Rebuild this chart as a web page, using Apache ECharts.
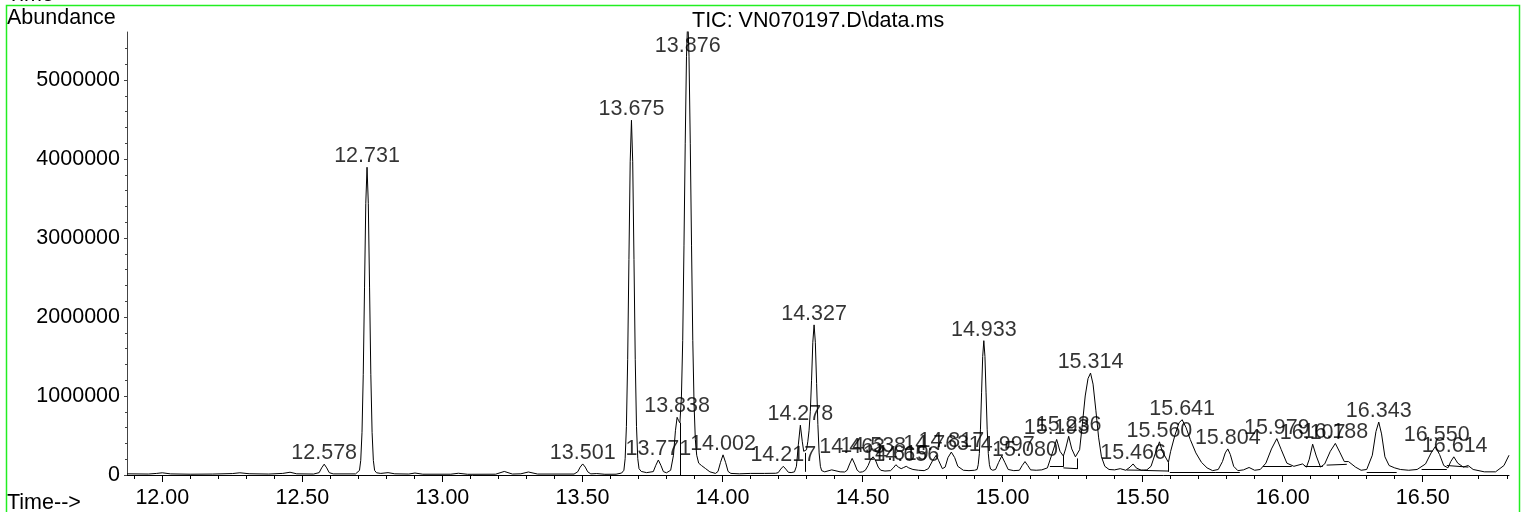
<!DOCTYPE html>
<html><head><meta charset="utf-8">
<script src="https://cdn.jsdelivr.net/npm/echarts@6/dist/echarts.min.js"></script>
<style>html,body{margin:0;padding:0;background:#fff;overflow:hidden}#c{width:1526px;height:512px}</style>
</head><body><div id="c"></div>
<script>
// ---- data ----
const traceTime = [
11.874,11.95,11.98,12.00,12.03,12.10,12.18,12.25,12.277,12.31,12.38,12.43,12.456,12.48,12.54,12.56,12.569,12.578,12.587,12.596,12.61,12.69,
12.704,12.7085,12.713,12.7175,12.722,12.7265,12.731,12.7355,12.740,12.7445,12.749,12.7535,12.758,12.765,12.78,12.806,12.83,12.88,12.902,12.93,
13.03,13.057,13.09,13.19,13.221,13.25,13.28,13.307,13.34,13.47,13.483,13.492,13.501,13.510,13.519,13.53,13.551,13.58,13.62,13.64,
13.648,13.6525,13.657,13.6615,13.666,13.6705,13.675,13.6795,13.684,13.6885,13.693,13.6975,13.702,13.71,13.729,13.753,13.762,13.771,13.780,13.789,13.80,
13.815,13.825,13.832,13.838,13.843,13.848,13.8535,13.858,13.8625,13.867,13.8715,13.876,13.8805,13.885,13.8895,13.894,13.8985,13.903,13.908,13.915,13.925,13.94,13.955,
13.975,13.984,13.993,14.002,14.011,14.020,14.03,14.06,14.10,14.15,14.19,14.199,14.208,14.217,14.226,14.235,14.245,14.257,14.264,14.271,14.278,14.285,14.290,14.295,
14.300,14.3045,14.309,14.3135,14.318,14.3225,14.327,14.3315,14.336,14.3405,14.345,14.3495,14.354,14.365,14.39,14.42,14.436,14.445,14.454,14.463,14.472,14.481,14.49,
14.50,14.51,14.52,14.529,14.538,14.547,14.556,14.565,14.58,14.60,14.610,14.619,14.628,14.638,14.647,14.656,14.665,14.68,14.70,14.72,14.735,14.75,14.763,14.772,14.785,
14.795,14.805,14.817,14.829,14.84,14.86,14.88,14.90,14.909,14.913,14.917,14.921,14.925,14.929,14.933,14.937,14.941,14.945,14.949,14.953,14.957,14.965,14.975,14.986,14.997,
15.008,15.02,15.04,15.06,15.07,15.080,15.09,15.10,15.12,15.14,15.16,15.175,15.193,15.205,15.217,15.225,15.236,15.247,15.26,15.267,15.275,15.285,15.295,15.305,15.314,
15.323,15.333,15.343,15.353,15.365,15.38,15.40,15.42,15.44,15.455,15.466,15.477,15.495,15.515,15.53,15.545,15.560,15.57,15.592,15.60,15.615,15.63,15.641,15.655,15.67,
15.69,15.71,15.73,15.75,15.77,15.785,15.795,15.804,15.813,15.825,15.84,15.86,15.88,15.90,15.92,15.94,15.96,15.979,15.995,16.015,16.04,16.071,16.085,16.095,16.107,
16.12,16.135,16.15,16.17,16.188,16.205,16.22,16.235,16.26,16.28,16.30,16.32,16.333,16.343,16.353,16.365,16.38,16.40,16.42,16.45,16.48,16.51,16.53,16.545,16.56,
16.575,16.59,16.60,16.611,16.625,16.645,16.662,16.68,16.72,16.76,16.79,16.808
];
const traceAbundance = [
15000,12000,20000,28000,14000,10000,12000,18000,28000,16000,12000,20000,35000,15000,12000,30000,90000,137000,90000,30000,14000,14000,
58000,185000,540000,1275000,2368000,3439000,3895000,3439000,2368000,1275000,540000,185000,58000,28000,20000,30000,15000,12000,25000,10000,
10000,22000,9000,10000,45000,12000,15000,38000,12000,12000,40000,100000,140000,100000,40000,14000,18000,9000,10000,25000,
60000,207000,616000,1465000,2727000,3964000,4490000,3964000,2727000,1465000,616000,207000,80000,45000,30000,43000,123000,190000,123000,43000,28000,
60000,250000,560000,730000,690000,660000,1000000,1700000,2900000,4200000,5300000,5800000,5300000,4200000,2900000,1700000,900000,450000,250000,150000,120000,80000,40000,
20000,45000,160000,255000,160000,45000,20000,15000,20000,20000,22000,30000,75000,110000,75000,35000,30000,40000,110000,390000,630000,420000,300000,280000,
320000,420000,560000,800000,1200000,1680000,1900000,1680000,1160000,640000,280000,110000,55000,40000,65000,40000,38000,60000,140000,210000,140000,60000,35000,
40000,60000,120000,200000,230000,180000,100000,60000,50000,55000,90000,130000,100000,80000,95000,110000,90000,70000,60000,55000,80000,180000,250000,180000,80000,
100000,220000,290000,220000,110000,60000,55000,60000,70000,130000,270000,580000,1040000,1500000,1700000,1500000,1040000,580000,270000,130000,75000,60000,70000,160000,240000,
160000,70000,55000,60000,120000,170000,120000,65000,60000,65000,90000,250000,450000,300000,240000,330000,490000,330000,230000,210000,320000,650000,1000000,1220000,1290000,
1150000,820000,470000,230000,110000,70000,65000,80000,60000,100000,140000,90000,60000,65000,110000,270000,420000,300000,160000,300000,500000,660000,700000,600000,450000,
280000,160000,90000,55000,70000,170000,280000,330000,260000,110000,55000,65000,95000,60000,70000,150000,330000,460000,320000,150000,110000,140000,100000,200000,390000,
240000,100000,140000,300000,400000,280000,170000,170000,100000,60000,70000,250000,550000,670000,520000,230000,120000,90000,70000,60000,70000,140000,280000,360000,260000,
120000,90000,170000,230000,150000,100000,120000,70000,40000,40000,120000,250000
];
const peakTimes = [12.578,12.731,13.501,13.675,13.771,13.838,13.876,14.002,14.217,14.278,14.327,14.463,14.538,14.619,14.656,14.763,14.817,14.933,14.997,15.080,15.193,15.236,15.314,15.466,15.560,15.641,15.804,15.979,16.107,16.188,16.343,16.550,16.614];
const peakHeights = [137000,3895000,140000,4490000,190000,730000,5600000,255000,110000,630000,1900000,210000,230000,130000,110000,250000,290000,1700000,240000,170000,450000,490000,1290000,140000,420000,700000,330000,460000,390000,400000,670000,360000,230000];
const peakLabels = ['12.578','12.731','13.501','13.675','13.771','13.838','13.876','14.002','14.217','14.278','14.327','14.463','14.538','14.619','14.656','14.763','14.817','14.933','14.997','15.080','15.193','15.236','15.314','15.466','15.560','15.641','15.804','15.979','16.107','16.188','16.343','16.550','16.614'];
// integration drop lines / baselines: [t1, v1, t2, v2]
const integrationLines = [
  [13.848,0,13.848,660000],
  [14.295,40000,14.295,280000],
  [14.490,40000,14.490,35000],
  [15.169,105000,15.217,105000],
  [15.217,105000,15.217,240000],
  [15.217,90000,15.267,80000],
  [15.267,75000,15.267,210000],
  [15.443,63000,15.502,60000],
  [15.502,58000,15.592,50000],
  [15.592,40000,15.592,160000],
  [15.597,40000,15.759,40000],
  [15.759,40000,15.847,40000],
  [15.930,110000,16.032,110000],
  [16.079,105000,16.143,105000],
  [16.157,125000,16.229,135000],
  [16.300,40000,16.407,40000],
  [16.496,70000,16.586,70000],
  [16.586,120000,16.663,100000]
];
const xMajorTicks = [12.0,12.5,13.0,13.5,14.0,14.5,15.0,15.5,16.0,16.5];
const xTickLabels = ['12.00','12.50','13.00','13.50','14.00','14.50','15.00','15.50','16.00','16.50'];
const xMinorTicks = [11.9,12.1,12.2,12.3,12.4,12.6,12.7,12.8,12.9,13.1,13.2,13.3,13.4,13.6,13.7,13.8,13.9,14.1,14.2,14.3,14.4,14.6,14.7,14.8,14.9,15.1,15.2,15.3,15.4,15.6,15.7,15.8,15.9,16.1,16.2,16.3,16.4,16.6,16.7,16.8];
const yMajorTicks = [0,1000000,2000000,3000000,4000000,5000000];
const yTickLabels = ['0','1000000','2000000','3000000','4000000','5000000'];
const yMinorTicks = [200000,400000,600000,800000,1200000,1400000,1600000,1800000,2200000,2400000,2600000,2800000,3200000,3400000,3600000,3800000,4200000,4400000,4600000,4800000,5200000,5400000];

const X_MIN = 11.874, X_MAX = 16.808, Y_MIN = 0, Y_MAX = 5607000;
const FONT = 'Arial, "Liberation Sans", sans-serif';
const FS = 21.5;

const chart = echarts.init(document.getElementById('c'), null, {renderer: 'canvas'});
const trace = traceTime.map((t, i) => [t, traceAbundance[i]]);
const peaks = peakTimes.map((t, i) => {
  const item = {value: [t, peakHeights[i]], name: peakLabels[i]};
  if (peakLabels[i] === '13.876') item.label = {offset: [0, 25]};
  return item;
});

const baseAxisX = {type: 'value', min: X_MIN, max: X_MAX, splitLine: {show: false}, position: 'bottom'};
const baseAxisY = {type: 'value', min: Y_MIN, max: Y_MAX, splitLine: {show: false}, position: 'left'};

chart.setOption({
  animation: false,
  backgroundColor: '#ffffff',
  grid: {left: 127, right: 17, top: 32, bottom: 37, containLabel: false},
  xAxis: [
    Object.assign({}, baseAxisX, {
      axisLine: {show: true, onZero: false, lineStyle: {color: '#000', width: 1}},
      axisTick: {show: true, length: 7, lineStyle: {color: '#000'}, customValues: xMajorTicks},
      axisLabel: {show: true, margin: 12, color: '#000', fontSize: FS, fontFamily: FONT,
        customValues: xMajorTicks,
        formatter: v => { const i = xMajorTicks.findIndex(m => Math.abs(m - v) < 1e-6); return i >= 0 ? xTickLabels[i] : ''; }}
    }),
    Object.assign({}, baseAxisX, {
      axisLine: {show: false, onZero: false},
      axisTick: {show: true, length: 4, lineStyle: {color: '#000'}, customValues: xMinorTicks},
      axisLabel: {show: false}
    })
  ],
  yAxis: [
    Object.assign({}, baseAxisY, {
      axisLine: {show: true, onZero: false, lineStyle: {color: '#444', width: 1}},
      axisTick: {show: true, length: 3, lineStyle: {color: '#444'}, customValues: yMajorTicks},
      axisLabel: {show: true, margin: 7, color: '#000', fontSize: FS, fontFamily: FONT,
        customValues: yMajorTicks,
        formatter: v => { const i = yMajorTicks.findIndex(m => Math.abs(m - v) < 1); return i >= 0 ? yTickLabels[i] : ''; }}
    }),
    Object.assign({}, baseAxisY, {
      axisLine: {show: false, onZero: false},
      axisTick: {show: true, length: 2, lineStyle: {color: '#444'}, customValues: yMinorTicks},
      axisLabel: {show: false}
    })
  ],
  graphic: [
    {type: 'rect', shape: {x: 6.5, y: 5.5, width: 1513, height: 520}, style: {fill: 'none', stroke: '#22ee22', lineWidth: 1.5}, silent: true, z: 100},
    {type: 'text', left: 7, top: -16, style: {text: 'Time-->', font: FS + 'px ' + FONT, fill: '#000'}},
    {type: 'text', left: 7, top: 7, style: {text: 'Abundance', font: FS + 'px ' + FONT, fill: '#000'}},
    {type: 'text', left: 692, top: 10, style: {text: 'TIC: VN070197.D\\data.ms', font: FS + 'px ' + FONT, fill: '#000'}},
    {type: 'text', left: 7, top: 492, style: {text: 'Time-->', font: FS + 'px ' + FONT, fill: '#000'}}
  ],
  series: [
    {type: 'line', xAxisIndex: 0, yAxisIndex: 0, data: trace, showSymbol: false, symbol: 'none', clip: true,
     lineStyle: {color: '#000', width: 1}, smooth: false, z: 3},
    {type: 'lines', coordinateSystem: 'cartesian2d', xAxisIndex: 0, yAxisIndex: 0,
     data: integrationLines.map(s => ({coords: [[s[0], s[1]], [s[2], s[3]]]})),
     lineStyle: {color: '#000', width: 1, opacity: 1}, z: 3},
    {type: 'scatter', xAxisIndex: 0, yAxisIndex: 0, data: peaks, symbolSize: 0, clip: false,
     label: {show: true, position: 'top', distance: 0, formatter: p => p.name, color: '#000', fontSize: FS, fontFamily: FONT},
     z: 4}
  ]
});
</script></body></html>
